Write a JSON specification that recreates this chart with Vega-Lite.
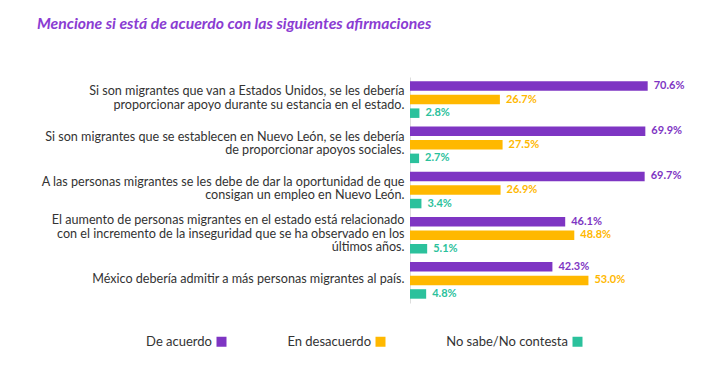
{
  "$schema": "https://vega.github.io/schema/vega-lite/v6.json",
  "autosize": {"type": "none"},
  "padding": {"left": 410, "top": 77, "right": 11, "bottom": 69},
  "width": 303,
  "height": 226,
  "background": "white",
  "title": {
    "text": "Mencione si está de acuerdo con las siguientes afirmaciones",
    "anchor": "start",
    "frame": "group",
    "dx": -373,
    "offset": 44,
    "font": "Lato",
    "fontStyle": "italic",
    "fontWeight": "bold",
    "fontSize": 15.75,
    "color": "#8A3CD2"
  },
  "data": {
    "values": [
      {"statement": "Si son migrantes que van a Estados Unidos, se les debería\nproporcionar apoyo durante su estancia en el estado.", "series": "De acuerdo", "value": 70.6},
      {"statement": "Si son migrantes que van a Estados Unidos, se les debería\nproporcionar apoyo durante su estancia en el estado.", "series": "En desacuerdo", "value": 26.7},
      {"statement": "Si son migrantes que van a Estados Unidos, se les debería\nproporcionar apoyo durante su estancia en el estado.", "series": "No sabe/No contesta", "value": 2.8},
      {"statement": "Si son migrantes que se establecen en Nuevo León, se les debería\nde proporcionar apoyos sociales.", "series": "De acuerdo", "value": 69.9},
      {"statement": "Si son migrantes que se establecen en Nuevo León, se les debería\nde proporcionar apoyos sociales.", "series": "En desacuerdo", "value": 27.5},
      {"statement": "Si son migrantes que se establecen en Nuevo León, se les debería\nde proporcionar apoyos sociales.", "series": "No sabe/No contesta", "value": 2.7},
      {"statement": "A las personas migrantes se les debe de dar la oportunidad de que\nconsigan un empleo en Nuevo León.", "series": "De acuerdo", "value": 69.7},
      {"statement": "A las personas migrantes se les debe de dar la oportunidad de que\nconsigan un empleo en Nuevo León.", "series": "En desacuerdo", "value": 26.9},
      {"statement": "A las personas migrantes se les debe de dar la oportunidad de que\nconsigan un empleo en Nuevo León.", "series": "No sabe/No contesta", "value": 3.4},
      {"statement": "El aumento de personas migrantes en el estado está relacionado\ncon el incremento de la inseguridad que se ha observado en los\núltimos años.", "series": "De acuerdo", "value": 46.1},
      {"statement": "El aumento de personas migrantes en el estado está relacionado\ncon el incremento de la inseguridad que se ha observado en los\núltimos años.", "series": "En desacuerdo", "value": 48.8},
      {"statement": "El aumento de personas migrantes en el estado está relacionado\ncon el incremento de la inseguridad que se ha observado en los\núltimos años.", "series": "No sabe/No contesta", "value": 5.1},
      {"statement": "México debería admitir a más personas migrantes al país.", "series": "De acuerdo", "value": 42.3},
      {"statement": "México debería admitir a más personas migrantes al país.", "series": "En desacuerdo", "value": 53.0},
      {"statement": "México debería admitir a más personas migrantes al país.", "series": "No sabe/No contesta", "value": 4.8}
    ]
  },
  "encoding": {
    "y": {
      "field": "statement",
      "type": "nominal",
      "sort": null,
      "scale": {"paddingInner": 0.1, "paddingOuter": 0.05},
      "axis": {
        "title": null,
        "ticks": false,
        "domain": true,
        "domainColor": "#DDDDDD",
        "labelExpr": "split(datum.label, '\\n')",
        "labelFont": "Lato",
        "labelFontSize": 12.6,
        "labelColor": "#333333",
        "labelLineHeight": 13.5,
        "labelPadding": 6,
        "labelLimit": 0,
        "labelOffset": {"expr": "-(length(split(datum.label, '\\n')) - 1) * 6.75 - 1.5"}
      }
    },
    "yOffset": {
      "field": "series",
      "type": "nominal",
      "sort": ["De acuerdo", "En desacuerdo", "No sabe/No contesta"],
      "scale": {"paddingInner": 0.3, "paddingOuter": 0.15}
    },
    "x": {
      "field": "value",
      "type": "quantitative",
      "scale": {"domain": [0, 90], "nice": false},
      "axis": null
    },
    "color": {
      "field": "series",
      "type": "nominal",
      "sort": ["De acuerdo", "En desacuerdo", "No sabe/No contesta"],
      "scale": {
        "domain": ["De acuerdo", "En desacuerdo", "No sabe/No contesta"],
        "range": ["#7E35C3", "#FFB800", "#2BC19C"]
      },
      "legend": {
        "title": null,
        "orient": "none",
        "direction": "horizontal",
        "legendX": -195,
        "legendY": 258,
        "symbolType": "square",
        "symbolSize": 100,
        "symbolStrokeWidth": 0,
        "labelAlign": "right",
        "labelOffset": -16,
        "labelFont": "Lato",
        "labelFontSize": 13,
        "labelColor": "#333333",
        "columnPadding": 60
      }
    }
  },
  "layer": [
    {"mark": {"type": "bar"}},
    {
      "mark": {
        "type": "text",
        "align": "left",
        "baseline": "middle",
        "dx": 6,
        "font": "Lato",
        "fontSize": 11,
        "fontWeight": "bold",
        "text": {"expr": "format(datum.value, '.1f') + '%'"}
      }
    }
  ],
  "config": {"view": {"stroke": null}}
}
